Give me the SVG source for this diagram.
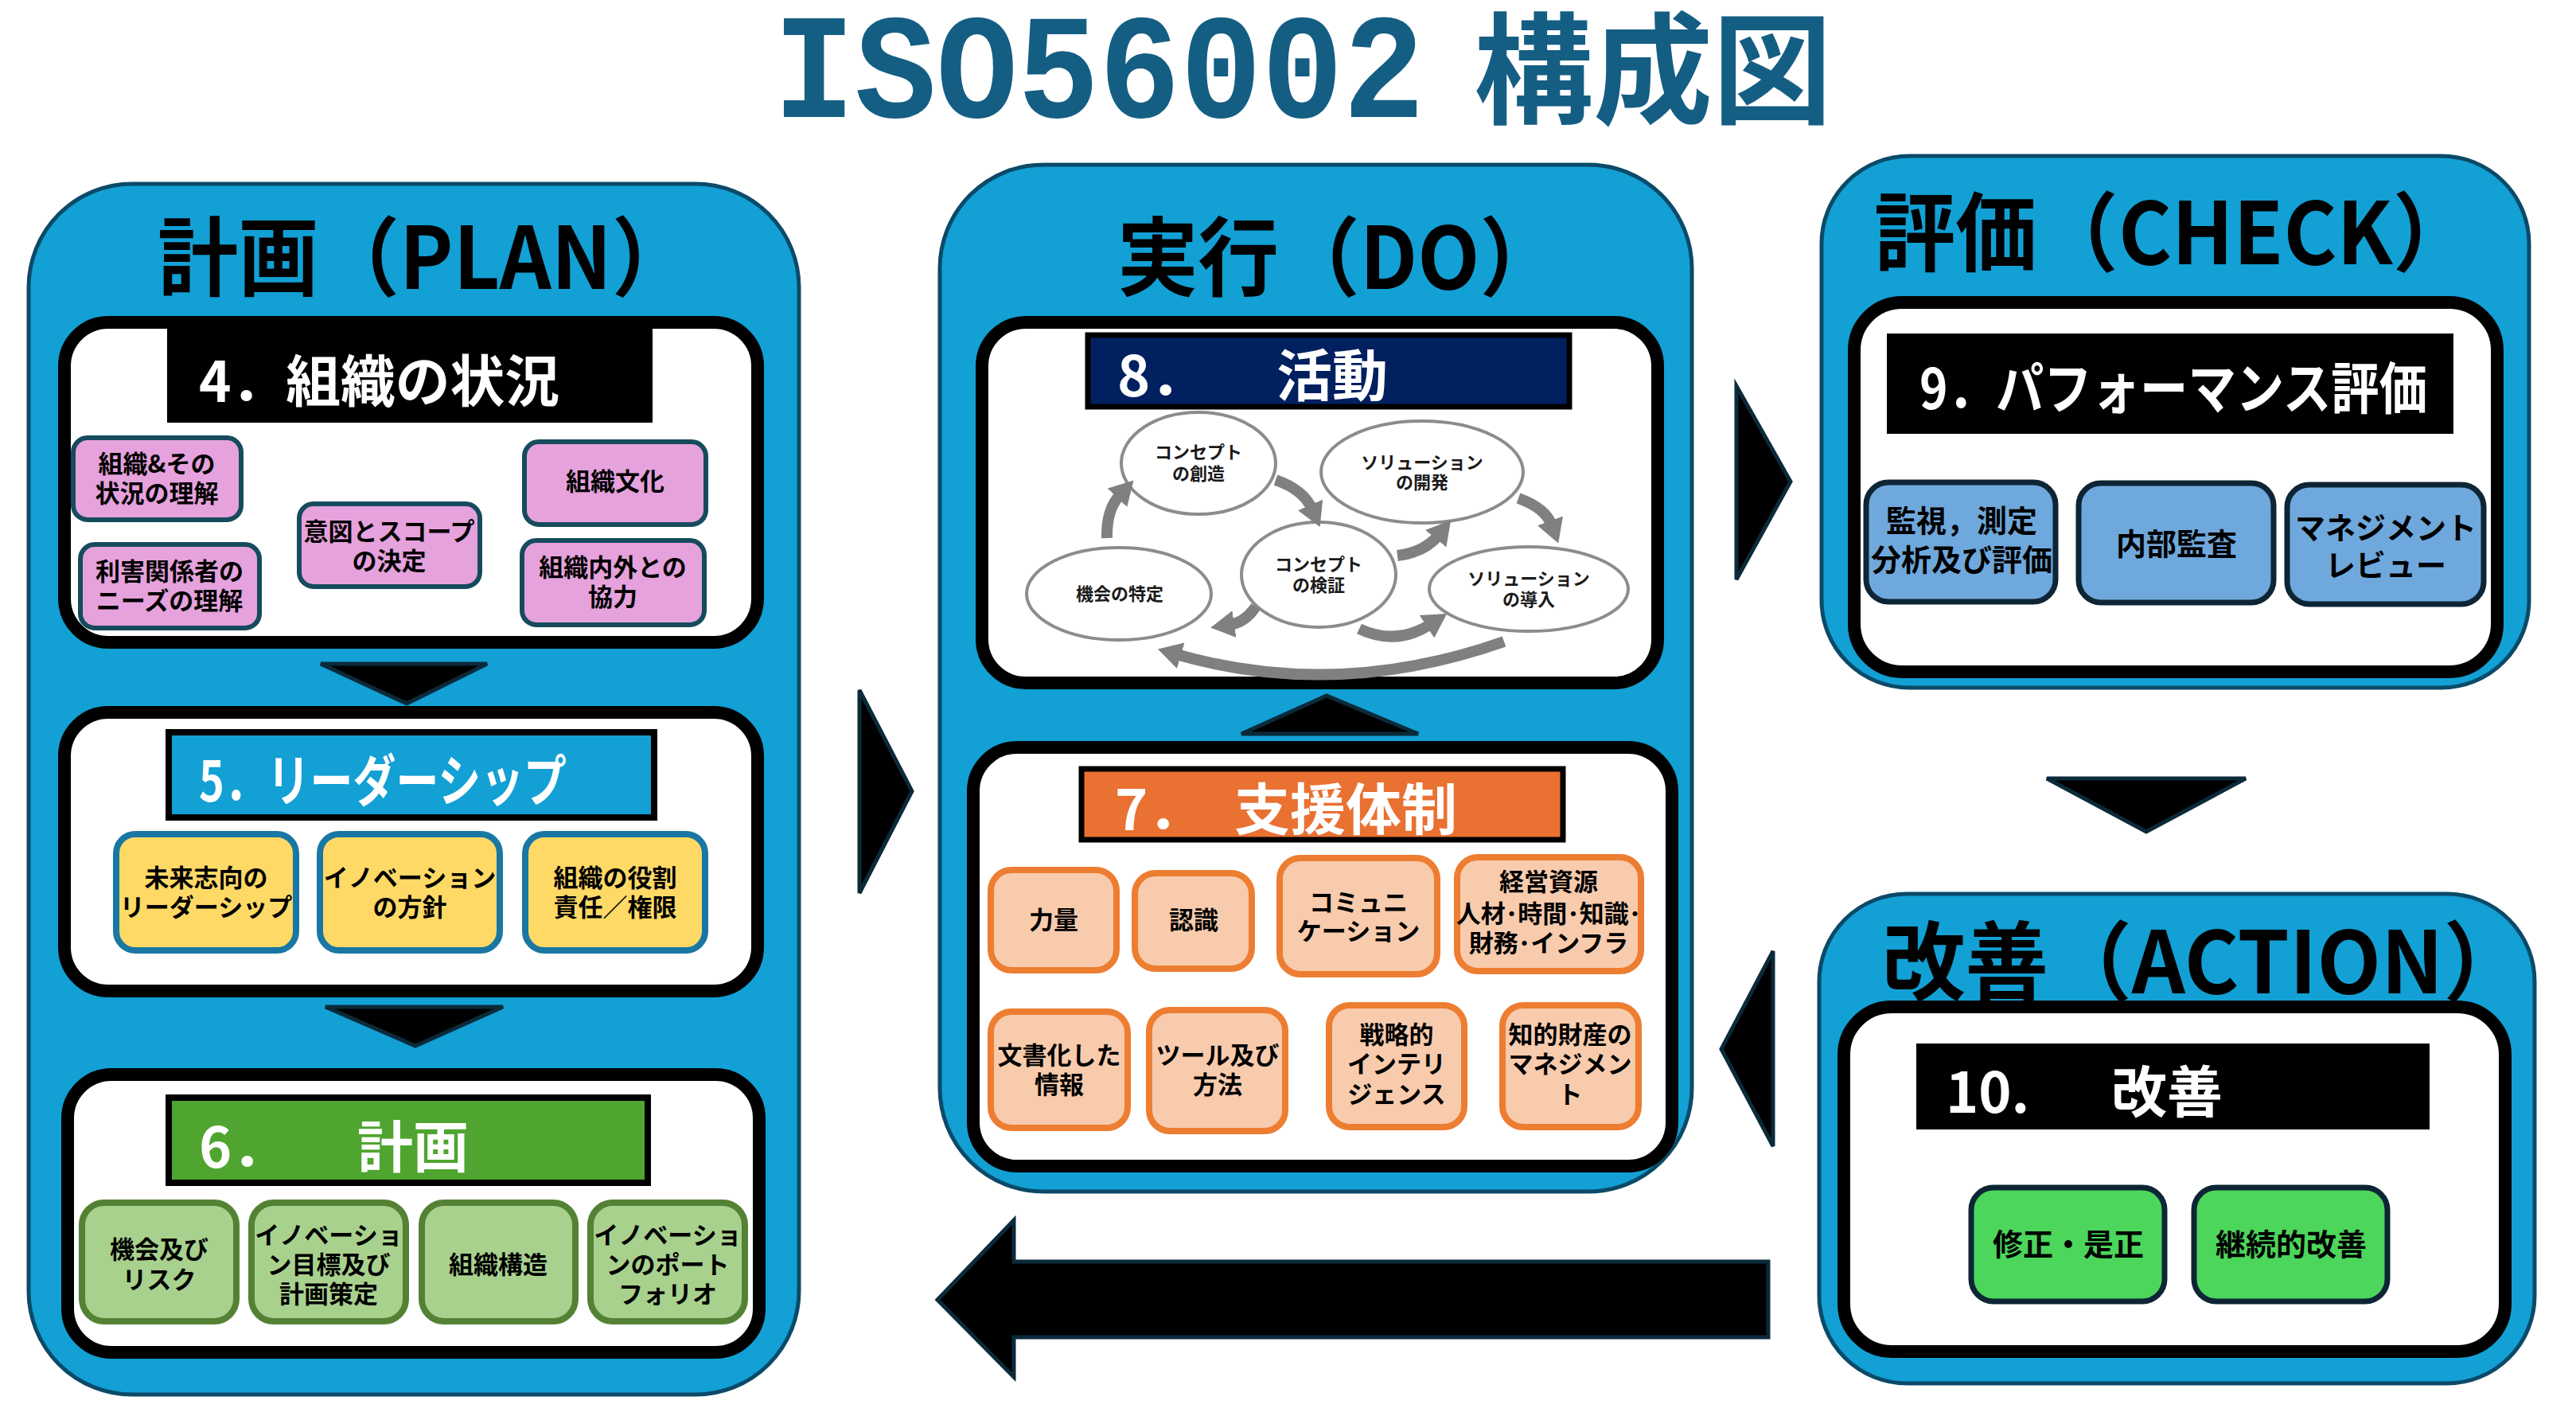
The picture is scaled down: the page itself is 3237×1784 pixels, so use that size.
<svg xmlns="http://www.w3.org/2000/svg" width="3237" height="1784" viewBox="0 0 3237 1784">
<defs>
<style>
text{font-family:"Noto Sans CJK JP","Noto Sans CJK SC",sans-serif;font-weight:700}
.mono{font-family:"Liberation Mono",monospace}
.c{text-anchor:middle;dominant-baseline:central}
.m{dominant-baseline:central}
.panel{fill:#12A0D5;stroke:#0B4A68;stroke-width:5}
.box{fill:#fff;stroke:#000;stroke-width:16}
.pt{font-size:108px;fill:#000}
.hd{font-size:70px;fill:#fff}
.it{font-size:31px;fill:#000}
.ct{font-size:22px;fill:#1a1a1a}
.bt{font-size:38px;fill:#000}
.pk{fill:#E6A2DC;stroke:#164B5E;stroke-width:6}
.yl{fill:#FFD966;stroke:#1877A3;stroke-width:8}
.gr{fill:#A9D18E;stroke:#548235;stroke-width:8}
.or{fill:#F8CBAD;stroke:#ED7D31;stroke-width:8}
.bl{fill:#6FA8DC;stroke:#0D2535;stroke-width:7}
.ag{fill:#4CD65B;stroke:#0D2535;stroke-width:7}
.ell{fill:#fff;stroke:#8C8C8C;stroke-width:4}
.arr{fill:#000;stroke:#0B2A3A;stroke-width:5;stroke-linejoin:miter}
.garr{fill:none;stroke:#808080;stroke-width:14;marker-end:url(#gh)}
</style>
<marker id="gh" markerUnits="userSpaceOnUse" markerWidth="30" markerHeight="34" viewBox="0 0 30 34" refX="6" refY="17" orient="auto"><path d="M0,0 L30,17 L0,34 z" fill="#808080"/></marker>
</defs>
<rect x="0" y="0" width="3237" height="1784" fill="#fff"/>

<g id="title">
<text class="mono" x="972" y="147" font-size="188" textLength="818" lengthAdjust="spacingAndGlyphs" fill="#155E83">ISO56002</text>
<text class="m" x="1852" y="78" font-size="152" textLength="450" lengthAdjust="spacingAndGlyphs" fill="#155E83">構成図</text>
</g>

<g id="plan">
<rect class="panel" x="36" y="231" width="968" height="1521" rx="130"/>
<text class="pt m" x="198" y="316" textLength="672" lengthAdjust="spacingAndGlyphs">計画（PLAN）</text>
</g>

<g id="sec4">
<rect class="box" x="81" y="405" width="871" height="402" rx="55"/>
<rect x="210" y="413" width="610" height="118" fill="#000"/>
<text class="hd m" x="250" y="474" textLength="453" lengthAdjust="spacingAndGlyphs">4．組織の状況</text>
</g>
<g id="sec4-1"><rect class="pk" x="92" y="550" width="211" height="103" rx="18"/><text class="it c"><tspan x="197" y="580">組織&amp;その</tspan><tspan x="197" y="617">状況の理解</tspan></text></g>
<g id="sec4-2"><rect class="pk" x="101" y="684" width="225" height="105" rx="18"/><text class="it c"><tspan x="213" y="715">利害関係者の</tspan><tspan x="213" y="752">ニーズの理解</tspan></text></g>
<g id="sec4-3"><rect class="pk" x="376" y="633" width="227" height="104" rx="18"/><text class="it c"><tspan x="489" y="665">意図とスコープ</tspan><tspan x="489" y="702">の決定</tspan></text></g>
<g id="sec4-4"><rect class="pk" x="659" y="555" width="228" height="104" rx="18"/><text class="it c" x="773" y="602">組織文化</text></g>
<g id="sec4-5"><rect class="pk" x="656" y="679" width="229" height="106" rx="18"/><text class="it c"><tspan x="770" y="710">組織内外との</tspan><tspan x="770" y="747">協力</tspan></text></g>

<g id="sec5">
<rect class="box" x="81" y="895" width="871" height="350" rx="55"/>
<rect x="212" y="920" width="610" height="107" fill="#12A0D5" stroke="#000" stroke-width="8"/>
<text class="hd m" x="250" y="976" textLength="462" lengthAdjust="spacingAndGlyphs">5．リーダーシップ</text>
</g>
<g id="sec5-1"><rect class="yl" x="146" y="1048" width="226" height="146" rx="24"/><text class="it c"><tspan x="259" y="1100">未来志向の</tspan><tspan x="259" y="1137">リーダーシップ</tspan></text></g>
<g id="sec5-2"><rect class="yl" x="402" y="1048" width="226" height="146" rx="24"/><text class="it c"><tspan x="515" y="1100">イノベーション</tspan><tspan x="515" y="1137">の方針</tspan></text></g>
<g id="sec5-3"><rect class="yl" x="660" y="1048" width="226" height="146" rx="24"/><text class="it c"><tspan x="773" y="1100">組織の役割</tspan><tspan x="773" y="1137">責任／権限</tspan></text></g>

<g id="sec6">
<rect class="box" x="85" y="1350" width="869" height="349" rx="55"/>
<rect x="212" y="1379" width="602" height="107" fill="#4FA52F" stroke="#000" stroke-width="8"/>
<text class="hd m" y="1436"><tspan x="250">6．</tspan><tspan x="449">計画</tspan></text>
</g>
<g id="sec6-1"><rect class="gr" x="103" y="1511" width="194" height="149" rx="28"/><text class="it c"><tspan x="200" y="1567">機会及び</tspan><tspan x="200" y="1605">リスク</tspan></text></g>
<g id="sec6-2"><rect class="gr" x="316" y="1511" width="194" height="149" rx="28"/><text class="it c"><tspan x="413" y="1549">イノベーショ</tspan><tspan x="413" y="1586">ン目標及び</tspan><tspan x="413" y="1623">計画策定</tspan></text></g>
<g id="sec6-3"><rect class="gr" x="530" y="1511" width="193" height="149" rx="28"/><text class="it c" x="626" y="1586">組織構造</text></g>
<g id="sec6-4"><rect class="gr" x="742" y="1511" width="194" height="149" rx="28"/><text class="it c"><tspan x="839" y="1549">イノベーショ</tspan><tspan x="839" y="1586">ンのポート</tspan><tspan x="839" y="1623">フォリオ</tspan></text></g>

<g id="do">
<rect class="panel" x="1181" y="207" width="945" height="1290" rx="130"/>
<text class="pt m" x="1404" y="316" textLength="557" lengthAdjust="spacingAndGlyphs">実行（DO）</text>
</g>

<g id="sec8">
<rect class="box" x="1234" y="405" width="849" height="453" rx="55"/>
<rect x="1367" y="421" width="605" height="90" fill="#002060" stroke="#000" stroke-width="7"/>
<text class="hd m" y="467"><tspan x="1404">8．</tspan><tspan x="1604">活動</tspan></text>
</g>
<g id="act-1"><ellipse class="ell" cx="1506" cy="582" rx="97" ry="64"/><text class="ct c"><tspan x="1506" y="566">コンセプト</tspan><tspan x="1506" y="593">の創造</tspan></text></g>
<g id="act-2"><ellipse class="ell" cx="1787" cy="593" rx="127" ry="64"/><text class="ct c"><tspan x="1787" y="579">ソリューション</tspan><tspan x="1787" y="604">の開発</tspan></text></g>
<g id="act-3"><ellipse class="ell" cx="1406" cy="746" rx="116" ry="58"/><text class="ct c" x="1407" y="744">機会の特定</text></g>
<g id="act-4"><ellipse class="ell" cx="1657" cy="722" rx="97" ry="66"/><text class="ct c"><tspan x="1657" y="707">コンセプト</tspan><tspan x="1657" y="733">の検証</tspan></text></g>
<g id="act-5"><ellipse class="ell" cx="1921" cy="740" rx="125" ry="53"/><text class="ct c"><tspan x="1921" y="725">ソリューション</tspan><tspan x="1921" y="751">の導入</tspan></text></g>

<g id="sec7">
<rect class="box" x="1223" y="939" width="878" height="526" rx="55"/>
<rect x="1359" y="966" width="605" height="89" fill="#E97132" stroke="#000" stroke-width="7"/>
<text class="hd m" y="1012"><tspan x="1401">7．</tspan><tspan x="1551">支援体制</tspan></text>
</g>
<g id="sec7-1"><rect class="or" x="1245" y="1093" width="158" height="126" rx="26"/><text class="it c" x="1324" y="1153">力量</text></g>
<g id="sec7-2"><rect class="or" x="1426" y="1097" width="147" height="120" rx="26"/><text class="it c" x="1500" y="1153">認識</text></g>
<g id="sec7-3"><rect class="or" x="1608" y="1078" width="198" height="146" rx="26"/><text class="it c"><tspan x="1707" y="1131">コミュニ</tspan><tspan x="1707" y="1167">ケーション</tspan></text></g>
<g id="sec7-4"><rect class="or" x="1831" y="1077" width="231" height="143" rx="26"/><text class="it c"><tspan x="1946" y="1105">経営資源</tspan><tspan x="1946" y="1145">人材･時間･知識･</tspan><tspan x="1946" y="1182">財務･インフラ</tspan></text></g>
<g id="sec7-5"><rect class="or" x="1245" y="1271" width="172" height="146" rx="26"/><text class="it c"><tspan x="1331" y="1323">文書化した</tspan><tspan x="1331" y="1360">情報</tspan></text></g>
<g id="sec7-6"><rect class="or" x="1444" y="1269" width="171" height="152" rx="26"/><text class="it c"><tspan x="1530" y="1323">ツール及び</tspan><tspan x="1530" y="1360">方法</tspan></text></g>
<g id="sec7-7"><rect class="or" x="1670" y="1263" width="170" height="153" rx="26"/><text class="it c"><tspan x="1755" y="1297">戦略的</tspan><tspan x="1755" y="1334">インテリ</tspan><tspan x="1755" y="1372">ジェンス</tspan></text></g>
<g id="sec7-8"><rect class="or" x="1888" y="1263" width="171" height="153" rx="26"/><text class="it c"><tspan x="1973" y="1297">知的財産の</tspan><tspan x="1973" y="1334">マネジメン</tspan><tspan x="1973" y="1372">ト</tspan></text></g>

<g id="check">
<rect class="panel" x="2289" y="196" width="889" height="668" rx="110"/>
<text class="pt m" x="2355" y="285" textLength="754" lengthAdjust="spacingAndGlyphs">評価（CHECK）</text>
</g>
<g id="sec9">
<rect class="box" x="2330" y="380" width="808" height="464" rx="60"/>
<rect x="2371" y="419" width="712" height="126" fill="#000"/>
<text class="hd m" x="2412" y="483" textLength="638" lengthAdjust="spacingAndGlyphs">9．パフォーマンス評価</text>
</g>
<g id="sec9-1"><rect class="bl" x="2345" y="606" width="238" height="150" rx="28"/><text class="bt c"><tspan x="2465" y="651">監視，測定</tspan><tspan x="2465" y="700">分析及び評価</tspan></text></g>
<g id="sec9-2"><rect class="bl" x="2612" y="607" width="245" height="150" rx="28"/><text class="bt c" x="2735" y="680">内部監査</text></g>
<g id="sec9-3"><rect class="bl" x="2874" y="609" width="247" height="150" rx="28"/><text class="bt c"><tspan x="2998" y="660">マネジメント</tspan><tspan x="2998" y="707">レビュー</tspan></text></g>

<g id="action">
<rect class="panel" x="2286" y="1123" width="899" height="615" rx="110"/>
</g>
<g id="sec10">
<rect class="box" x="2317" y="1265" width="831" height="433" rx="60"/>
<rect x="2408" y="1311" width="645" height="108" fill="#000"/>
<text class="hd m" y="1367"><tspan x="2445">10.</tspan><tspan x="2653">改善</tspan></text>
</g>
<g id="action-title"><text class="pt m" x="2365" y="1201" textLength="810" lengthAdjust="spacingAndGlyphs">改善（ACTION）</text></g>
<g id="sec10-1"><rect class="ag" x="2477" y="1492" width="243" height="143" rx="28"/><text class="bt c" x="2599" y="1560">修正・是正</text></g>
<g id="sec10-2"><rect class="ag" x="2757" y="1492" width="243" height="143" rx="28"/><text class="bt c" x="2879" y="1560">継続的改善</text></g>

<g id="connectors">
<polygon class="arr" points="403,834 612,834 511,884"/>
<polygon class="arr" points="409,1265 632,1265 522,1314"/>
<polygon class="arr" points="1080,867 1080,1122 1146,994"/>
<polygon class="arr" points="1560,922 1782,922 1667,874"/>
<polygon class="arr" points="2182,485 2182,728 2250,605"/>
<polygon class="arr" points="2572,978 2822,978 2697,1045"/>
<polygon class="arr" points="2228,1195 2228,1440 2163,1318"/>
<polygon class="arr" points="1178,1633 1274,1533 1274,1585 2222,1585 2222,1680 1274,1680 1274,1730"/>
<path class="garr" d="M1391,676 Q1390,640 1408,621"/>
<path class="garr" d="M1603,603 Q1638,615 1649,640"/>
<path class="garr" d="M1756,698 Q1790,694 1808,672"/>
<path class="garr" d="M1908,626 Q1942,638 1950,660"/>
<path class="garr" d="M1578,762 Q1565,782 1545,785"/>
<path class="garr" d="M1708,790 Q1755,812 1798,784"/>
<path class="garr" d="M1890,806 Q1680,880 1478,822"/>
</g>
</svg>
